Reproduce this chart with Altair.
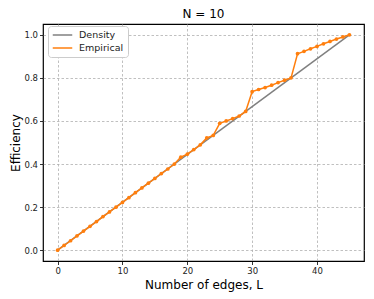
import altair as alt
import pandas as pd

# Density line (straight from (0,0) to (45,1))
dens_L = [0, 45]
dens_E = [0.0, 1.0]

# Empirical efficiency, one point per number of edges L = 0..45
emp_L = list(range(46))
emp_E = [0.0, 0.022, 0.044, 0.067, 0.089, 0.111, 0.133, 0.156, 0.178, 0.2,
         0.222, 0.244, 0.267, 0.289, 0.311, 0.333, 0.356, 0.377, 0.4, 0.432,
         0.446, 0.467, 0.489, 0.521, 0.533, 0.589, 0.6, 0.611, 0.623, 0.644,
         0.736, 0.746, 0.755, 0.766, 0.778, 0.789, 0.8, 0.912, 0.923, 0.935,
         0.946, 0.958, 0.969, 0.98, 0.99, 1.0]

series = ["Density", "Empirical"]
colors = ["#808080", "#ff7f0e"]

df_d = pd.DataFrame({"L": dens_L, "E": dens_E, "s": series[0]})
df_e = pd.DataFrame({"L": emp_L, "E": emp_E, "s": series[1]})
df = pd.concat([df_d, df_e], ignore_index=True)

FONT = "DejaVu Sans"

x = alt.X("L:Q", scale=alt.Scale(domain=[-2.25, 47.25], nice=False, zero=False),
          axis=alt.Axis(values=[0, 10, 20, 30, 40], title="Number of edges, L",
                        titleFontSize=12, titleFontWeight="normal", titlePadding=4))
y = alt.Y("E:Q", scale=alt.Scale(domain=[-0.05, 1.05], nice=False, zero=False),
          axis=alt.Axis(values=[0.0, 0.2, 0.4, 0.6, 0.8, 1.0], format=".1f",
                        title="Efficiency", titleFontSize=12,
                        titleFontWeight="normal", titlePadding=1))
color = alt.Color("s:N", scale=alt.Scale(domain=series, range=colors),
                  legend=alt.Legend(title=None, orient="none", legendX=5, legendY=2,
                                    symbolType="stroke", symbolStrokeWidth=1.5,
                                    symbolSize=380, clipHeight=10, labelFontSize=9.5,
                                    fillColor="white", strokeColor="#cccccc",
                                    padding=4, rowPadding=3, cornerRadius=3,
                                    labelFont=FONT, labelOffset=6))

lines = alt.Chart(df).mark_line(strokeWidth=1.5).encode(x=x, y=y, color=color)
pts = alt.Chart(df_e).mark_point(filled=True, size=14, opacity=1, color="#ff7f0e").encode(x="L:Q", y="E:Q")

chart = alt.layer(lines, pts).properties(
    width=321, height=237,
    title=alt.TitleParams("N = 10", fontSize=12, fontWeight="normal", font=FONT, offset=3),
    autosize=alt.AutoSizeParams(type="none"),
    padding={"left": 35, "top": 16, "right": 2, "bottom": 40},
).configure_axis(
    labelFont=FONT, titleFont=FONT, labelFontSize=8.5, labelColor="#222",
    titleColor="black",
    grid=True, gridColor="#b0b0b0", gridDash=[2.5, 2], gridWidth=0.8,
    domain=False, tickColor="black", tickSize=3.5, tickWidth=0.8, labelPadding=2,
).configure_view(stroke="black", strokeWidth=1.2).configure_legend(labelColor="#222")

chart.save("out.html", embed_options={"renderer": "svg", "actions": False})
